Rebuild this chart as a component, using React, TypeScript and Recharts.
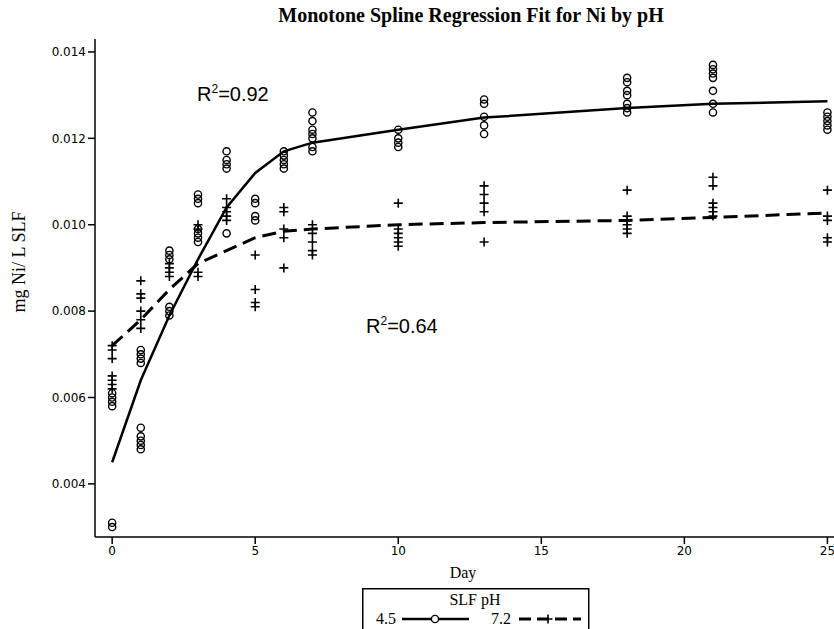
import React from 'react';
import { ComposedChart, Line, Scatter, XAxis, YAxis } from 'recharts';

const days = [0, 1, 2, 3, 4, 5, 6, 7, 10, 13, 18, 21, 25];

// observed Ni concentrations (mg/L) per day, pH 4.5
const ph45Obs = [
  [0.0061, 0.006, 0.0059, 0.0058, 0.0031, 0.003],
  [0.0071, 0.007, 0.0069, 0.0068, 0.0053, 0.0051, 0.005, 0.0049, 0.0048],
  [0.0094, 0.0093, 0.0092, 0.0081, 0.008, 0.0079],
  [0.0107, 0.0106, 0.0105, 0.0099, 0.0098, 0.0097, 0.0096],
  [0.0117, 0.0115, 0.0114, 0.0113, 0.0098],
  [0.0106, 0.0105, 0.0102, 0.0101],
  [0.0117, 0.0116, 0.0115, 0.0114, 0.0113],
  [0.0126, 0.0124, 0.0122, 0.0121, 0.012, 0.0118, 0.0117],
  [0.0122, 0.012, 0.0119, 0.0118],
  [0.0129, 0.0128, 0.0125, 0.0123, 0.0121],
  [0.0134, 0.0133, 0.0131, 0.013, 0.0128, 0.0127, 0.0126],
  [0.0137, 0.0136, 0.0135, 0.0134, 0.0131, 0.0128, 0.0126],
  [0.0126, 0.0125, 0.0124, 0.0123, 0.0122],
];

// pH 7.2
const ph72Obs = [
  [0.0072, 0.0071, 0.0069, 0.0065, 0.0064, 0.0063, 0.0062],
  [0.0087, 0.0084, 0.0083, 0.008, 0.0078, 0.0076],
  [0.0091, 0.009, 0.0089, 0.0088],
  [0.01, 0.0099, 0.0089, 0.0088],
  [0.0106, 0.0104, 0.0103, 0.0102, 0.0101],
  [0.0093, 0.0085, 0.0082, 0.0081],
  [0.0104, 0.0103, 0.0099, 0.0097, 0.009],
  [0.01, 0.0098, 0.0096, 0.0094, 0.0093],
  [0.0105, 0.0099, 0.0098, 0.0097, 0.0096, 0.0095],
  [0.0109, 0.0107, 0.0105, 0.0103, 0.0096],
  [0.0108, 0.0102, 0.0101, 0.01, 0.0099, 0.0098],
  [0.0111, 0.0109, 0.0105, 0.0104, 0.0103, 0.0102],
  [0.0108, 0.0102, 0.0101, 0.0097, 0.0096],
];

// monotone spline fits
const ph45Fit = [0.0045, 0.0064, 0.0079, 0.0092, 0.0104, 0.0112, 0.0117, 0.0119, 0.0122, 0.01248, 0.0127, 0.0128, 0.01286];
const ph72Fit = [0.0072, 0.0078, 0.0085, 0.0091, 0.0094, 0.0097, 0.00985, 0.0099, 0.01, 0.01005, 0.0101, 0.01017, 0.01027];

const yTicks = [0.004, 0.006, 0.008, 0.01, 0.012, 0.014];
const xTicks = [0, 5, 10, 15, 20, 25];

const toPoints = (obs: number[][]) =>
  obs.flatMap((vals, i) => vals.map((v) => ({ day: days[i], value: v })));
const toLine = (fit: number[]) => fit.map((v, i) => ({ day: days[i], value: v }));

const pts45 = toPoints(ph45Obs);
const pts72 = toPoints(ph72Obs);
const line45 = toLine(ph45Fit);
const line72 = toLine(ph72Fit);

const CircleMark = (props: any) => {
  const { cx, cy } = props;
  return <circle cx={cx} cy={cy} r={3.6} fill="none" stroke="#000" strokeWidth={1.4} />;
};

const PlusMark = (props: any) => {
  const { cx, cy } = props;
  return (
    <path
      d={`M${cx - 4.5},${cy}H${cx + 4.5}M${cx},${cy - 4.5}V${cy + 4.5}`}
      stroke="#000"
      strokeWidth={1.6}
      fill="none"
    />
  );
};

const tickStyle = { fontFamily: 'DejaVu Sans', fontSize: 12, fill: '#000' };
const serif = '"Liberation Serif", "Times New Roman", serif';
const sans = '"Liberation Sans", Arial, sans-serif';

const LegendBox = () => (
  <svg width={228} height={42} style={{ display: 'block' }}>
    <rect x={0.75} y={0.75} width={226} height={50} fill="#fff" stroke="#000" strokeWidth={1.5} />
    <text x={113} y={17} textAnchor="middle" fontFamily={serif} fontSize={16}>SLF pH</text>
    <text x={14} y={36} fontFamily={serif} fontSize={16}>4.5</text>
    <line x1={40} y1={31} x2={107} y2={31} stroke="#000" strokeWidth={2.5} />
    <circle cx={73} cy={31} r={3.6} fill="#fff" stroke="#000" strokeWidth={1.4} />
    <text x={129} y={36} fontFamily={serif} fontSize={16}>7.2</text>
    <line x1={157} y1={31} x2={219} y2={31} stroke="#000" strokeWidth={3} strokeDasharray="12 6" />
    <path d="M181.5,31H190.5M186,26.5V35.5" stroke="#000" strokeWidth={1.6} />
  </svg>
);

export default function App() {
  return (
    <div style={{ position: 'absolute', left: 0, top: 0, width: 834, height: 629, background: '#fff', overflow: 'hidden' }}>
      <div
        style={{
          position: 'absolute', left: 0, top: 4, width: 942, textAlign: 'center',
          fontFamily: serif, fontWeight: 'bold', fontSize: 20,
        }}
      >
        Monotone Spline Regression Fit for Ni by pH
      </div>
      <div
        style={{
          position: 'absolute', left: 19, top: 262, transform: 'translate(-50%, -50%) rotate(-90deg)',
          fontFamily: serif, fontSize: 18, whiteSpace: 'nowrap',
        }}
      >
        mg Ni/ L SLF
      </div>
      <div style={{ position: 'absolute', left: 197, top: 82, fontFamily: sans, fontSize: 20 }}>
        R<sup style={{ fontSize: 12 }}>2</sup>=0.92
      </div>
      <div style={{ position: 'absolute', left: 366, top: 314, fontFamily: sans, fontSize: 20 }}>
        R<sup style={{ fontSize: 12 }}>2</sup>=0.64
      </div>
      <div style={{ position: 'absolute', left: 0, top: 564, width: 926, textAlign: 'center', fontFamily: serif, fontSize: 16 }}>
        Day
      </div>
      <ComposedChart width={834} height={629} margin={{ top: 39, right: 0, bottom: 62, left: 0 }}>
        <XAxis
          xAxisId="top"
          orientation="top"
          type="number"
          domain={[-0.6, 25.23]}
          tick={false}
          tickLine={false}
          height={0}
          axisLine={{ stroke: '#000', strokeWidth: 1.5 }}
        />
        <XAxis
          dataKey="day"
          type="number"
          domain={[-0.6, 25.23]}
          allowDataOverflow
          ticks={xTicks}
          tick={tickStyle}
          tickSize={7}
          height={30}
          axisLine={{ stroke: '#000', strokeWidth: 1.5 }}
          tickLine={{ stroke: '#000', strokeWidth: 1.5 }}
        />
        <YAxis
          dataKey="value"
          type="number"
          domain={[0.00277, 0.0143]}
          allowDataOverflow
          ticks={yTicks}
          tickFormatter={(v: number) => v.toFixed(3)}
          tick={tickStyle}
          tickSize={7}
          width={95}
          axisLine={{ stroke: '#000', strokeWidth: 1.5 }}
          tickLine={{ stroke: '#000', strokeWidth: 1.5 }}
        />
        <Scatter data={pts45} dataKey="value" shape={<CircleMark />} isAnimationActive={false} />
        <Scatter data={pts72} dataKey="value" shape={<PlusMark />} isAnimationActive={false} />
        <Line data={line45} dataKey="value" type="linear" stroke="#000" strokeWidth={2.5} dot={false} isAnimationActive={false} />
        <Line
          data={line72}
          dataKey="value"
          type="linear"
          stroke="#000"
          strokeWidth={3}
          strokeDasharray="14 7"
          dot={false}
          isAnimationActive={false}
        />
      </ComposedChart>
      <div style={{ position: 'absolute', left: 362, top: 588 }}>
        <LegendBox />
      </div>
    </div>
  );
}
